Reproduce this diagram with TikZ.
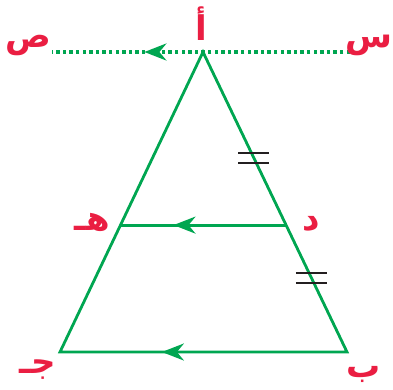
\documentclass[tikz,border=0pt]{standalone}
\usepackage{fontspec}
\newfontfamily\arabicfont[Script=Arabic]{DejaVu Sans}
\TeXXeTstate=1
\usetikzlibrary{arrows.meta,calc,decorations.markings}
\definecolor{lgreen}{RGB}{0,166,81}
\definecolor{lred}{RGB}{234,30,66}
\definecolor{tickc}{RGB}{35,31,32}
\tikzset{
  >={Stealth[length=22pt,width=17pt,inset=7pt]},
  side/.style={line width=2.8pt,lgreen},
  parline/.style={line width=3.4pt,lgreen,dash pattern=on 3.4pt off 3.2pt},
  lbl/.style={text=lred,font=\arabicfont\bfseries\fontsize{34}{34}\selectfont,inner sep=0pt},
  tk/.style={line width=2.6pt,tickc},
  midarrow/.style={postaction={decorate},
    decoration={markings,mark=at position #1 with {\arrow{>}}}},
}

\begin{document}
\begin{tikzpicture}[x=1pt,y=-1pt]
  \useasboundingbox (0,0) rectangle (393,389);
  % vertices
  \coordinate (A) at (203,52);
  \coordinate (B) at (347,352);
  \coordinate (C) at (60,352);
  \coordinate (D) at ($(A)!.577!(B)$);
  \coordinate (E) at ($(A)!.577!(C)$);
  % the parallel through A
  \coordinate (S) at (350,52);
  \coordinate (P) at (52,52);

  \draw[parline,midarrow=.69] (S) -- (P);

  % triangle and segment
  \draw[side,line join=miter] (A) -- (B) -- (C) -- cycle;
  \draw[side,midarrow=.645] (B) -- (C);
  \draw[side,midarrow=.68] (D) -- (E);

  % equal marks
  \coordinate (t1) at ($(A)!.353!(B)$);
  \coordinate (t2) at ($(A)!.753!(B)$);
  \foreach \t in {t1,t2}{
    \draw[tk] ($(\t)+(-15.5,-5)$) -- ($(\t)+(15.5,-5)$);
    \draw[tk] ($(\t)+(-15.5,5)$) -- ($(\t)+(15.5,5)$);
  }

  % labels
  \node[lbl] (lA) at (201,24) {\beginR أ\endR};
  \node[lbl] (lP) at (28,45)  {\beginR ص\endR};
  \node[lbl] (lS) at (369,45) {\beginR س\endR};
  \node[lbl] (lE) at (92,222) {\beginR هـ\endR};
  \node[lbl] (lD) at (311,224){\beginR د\endR};
  \node[lbl] (lC) at (38,370) {\beginR جـ\endR};
  \node[lbl] (lB) at (364,374){\beginR ب\endR};
\end{tikzpicture}
\end{document}
